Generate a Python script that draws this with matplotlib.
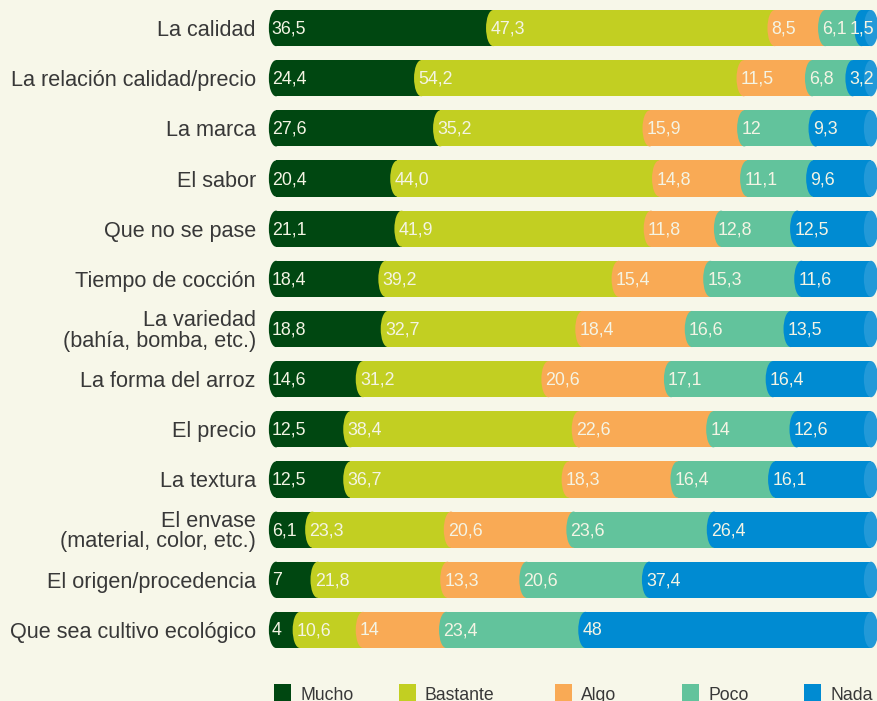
import matplotlib
matplotlib.use("Agg")
import matplotlib.pyplot as plt
from matplotlib.patches import Rectangle, Ellipse

plt.rcParams["font.family"] = ["Liberation Sans", "DejaVu Sans"]

categories = [
    "La calidad",
    "La relación calidad/precio",
    "La marca",
    "El sabor",
    "Que no se pase",
    "Tiempo de cocción",
    "La variedad\n(bahía, bomba, etc.)",
    "La forma del arroz",
    "El precio",
    "La textura",
    "El envase\n(material, color, etc.)",
    "El origen/procedencia",
    "Que sea cultivo ecológico",
]

# values as printed in the chart (comma decimal)
mucho = ["36,5", "24,4", "27,6", "20,4", "21,1", "18,4", "18,8", "14,6", "12,5", "12,5", "6,1", "7", "4"]
bastante = ["47,3", "54,2", "35,2", "44,0", "41,9", "39,2", "32,7", "31,2", "38,4", "36,7", "23,3", "21,8", "10,6"]
algo = ["8,5", "11,5", "15,9", "14,8", "11,8", "15,4", "18,4", "20,6", "22,6", "18,3", "20,6", "13,3", "14"]
poco = ["6,1", "6,8", "12", "11,1", "12,8", "15,3", "16,6", "17,1", "14", "16,4", "23,6", "20,6", "23,4"]
nada = ["1,5", "3,2", "9,3", "9,6", "12,5", "11,6", "13,5", "16,4", "12,6", "16,1", "26,4", "37,4", "48"]

series_names = ["Mucho", "Bastante", "Algo", "Poco", "Nada"]
series = [mucho, bastante, algo, poco, nada]
colors = ["#004711", "#c2cf22", "#f9aa55", "#62c39c", "#008bd2"]
end_cap = "#2299d8"
bg = "#f7f7e9"

W, H = 877, 701
fig = plt.figure(figsize=(W / 100, H / 100), dpi=100, facecolor=bg)
ax = fig.add_axes([276 / W, 1 - 655 / H, (871 - 276) / W, (655 - 3) / H])
ax.set_facecolor(bg)
ax.set_xlim(0, 100)
ax.set_ylim(len(categories) - 0.5, -0.5)

bar_h = 0.72
cap_w = 2.4

for row in range(len(categories)):
    start = 0.0
    for k, vals in enumerate(series):
        v = float(vals[row].replace(",", "."))
        last = k == len(series) - 1
        end = 100.0 if last else start + v
        ax.add_patch(Rectangle((start, row - bar_h / 2), end - start, bar_h,
                               facecolor=colors[k], edgecolor="none", zorder=2 + k))
        ax.add_patch(Ellipse((start, row), cap_w, bar_h, facecolor=colors[k],
                             edgecolor="none", zorder=2 + k, clip_on=False))
        if last and v < 4:
            # narrow last segment: keep the label inside the bar end
            ax.text(100.5, row + 0.02, vals[row], color="#f4f4e4", fontsize=12.8,
                    ha="right", va="center", zorder=10)
        else:
            tx = start - 0.7 if k == 0 else start - 0.5
            ax.text(tx, row + 0.02, vals[row], color="#f4f4e4", fontsize=12.8,
                    ha="left", va="center", zorder=10)
        start = end
    ax.add_patch(Ellipse((100, row), cap_w, bar_h, facecolor=end_cap,
                         edgecolor="none", zorder=8, clip_on=False))

ax.set_yticks(range(len(categories)))
ax.set_yticklabels(categories, fontsize=15.6, color="#383838", linespacing=0.95)
ax.tick_params(axis="y", length=0, pad=14.5)
ax.set_xticks([])
for s in ax.spines.values():
    s.set_visible(False)

# legend along the bottom edge
legend_x = [274, 399, 555, 682, 804]
for name, col, lx in zip(series_names, colors, legend_x):
    fig.add_artist(Rectangle((lx / W, 1 - 701 / H), 17 / W, 17 / H,
                             transform=fig.transFigure, facecolor=col, edgecolor="none"))
    fig.text((lx + 26) / W, 1 - 695 / H, name, fontsize=12.7, color="#383838",
             ha="left", va="center")

fig.savefig("out.png", dpi=100, facecolor=bg)
